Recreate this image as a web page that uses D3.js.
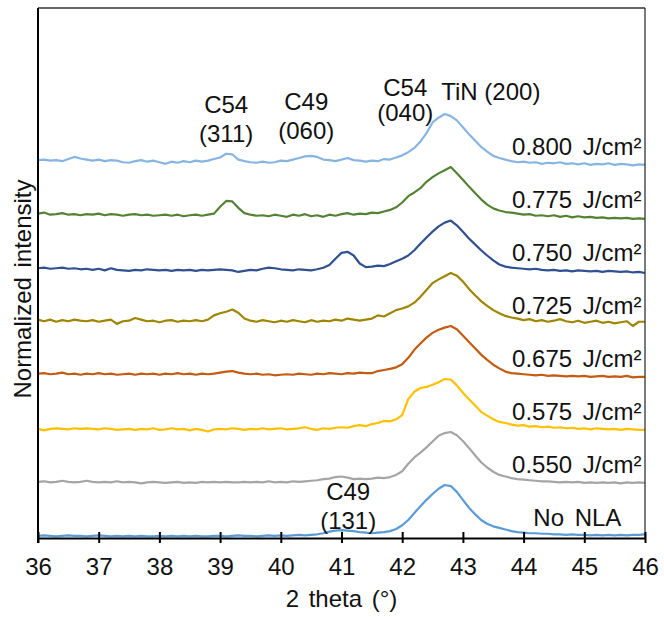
<!DOCTYPE html>
<html><head><meta charset="utf-8">
<script src="https://cdn.jsdelivr.net/npm/d3@7"></script>
<style>
body{margin:0;background:#fff}
text{font-family:Arial,"Liberation Sans",sans-serif;fill:#111}
</style>
</head><body>
<svg id="c" width="664" height="617"></svg>
<script>
// ---- DATA (normalized intensity x100, sampled every 0.1° from 36 to 46) ----
const twoTheta = d3.range(360, 461).map(d => d / 10);
const seriesNames = ["No NLA","0.550 J/cm²","0.575 J/cm²","0.675 J/cm²","0.725 J/cm²","0.750 J/cm²","0.775 J/cm²","0.800 J/cm²"];
const xTicks = [36,37,38,39,40,41,42,43,44,45,46];

const noNLA = [4,5,4,3,4,5,4,4,3,4, 5,4,3,4,3,4,3,4,3,3, 4,3,4,3,4,3,4,3,3,4, 4,3,4,5,4,4,3,4,5,4,
  5,4,5,6,5,6,7,9,12,14, 15,14,13,11,10,9,10,11,13,17, 24,34,47,60,72,83,93,100,98,87,
  72,57,45,34,27,22,19,16,13,11, 10,9,9,8,8,7,7,6,7,6, 6,5,6,5,6,5,6,5,6,6, 7];
const f550 = [6,7,5,6,8,6,5,6,8,6, 5,6,5,7,5,6,5,3,5,6, 5,4,5,6,4,5,4,6,5,6, 5,6,5,5,6,5,6,5,7,5,
  6,5,7,6,7,8,9,11,12,15, 16,14,11,12,11,12,14,13,15,19, 26,40,52,61,71,82,93,98,100,94,
  83,70,56,43,33,25,19,16,13,11, 10,9,8,7,7,6,5,6,5,6, 4,5,4,5,4,5,3,5,4,5, 4];
const f575 = [6,3,6,7,6,5,7,6,7,6, 5,7,6,4,5,6,4,6,5,7, 4,5,7,5,6,3,6,4,1,5, 6,5,7,6,4,6,5,7,5,6,
  7,5,6,7,9,6,4,7,6,8, 9,8,11,13,11,15,17,21,20,24, 32,62,76,83,85,89,94,100,99,88,
  74,62,50,38,31,24,19,17,14,12, 13,10,11,9,10,8,9,7,8,6, 7,5,7,6,5,6,4,6,5,4, 4];
const f675 = [10,11,9,10,12,9,10,8,10,9, 11,9,10,8,9,10,8,10,9,10, 8,10,9,11,9,10,8,10,9,10, 12,14,15,12,10,9,10,8,9,7,
  8,9,8,10,9,8,10,9,11,10, 9,11,10,12,11,11,15,17,19,22, 28,40,55,67,78,87,93,97,100,94,
  82,70,58,46,36,27,20,14,11,10, 9,8,7,8,6,7,6,5,6,5, 6,4,5,6,4,5,4,6,3,4, 4];
const f725 = [12,9,12,8,11,9,12,10,9,11, 8,10,12,4,9,10,15,12,9,10, 7,10,11,8,10,9,11,9,12,20, 24,27,31,25,14,10,8,11,9,7,
  10,8,11,9,7,11,8,10,9,12, 10,14,12,10,12,14,20,18,24,30, 33,37,44,55,68,81,88,94,100,95,
  84,70,58,47,38,30,24,19,16,14, 11,13,9,11,8,10,13,9,7,10, 6,8,10,6,8,5,7,9,0,8, 8];
const f750 = [9,10,8,9,10,8,9,7,8,6, 8,5,9,6,5,4,6,5,7,6, 5,6,4,6,5,6,4,6,5,6, 7,6,5,2,4,6,5,8,10,9,
  7,6,5,7,6,5,7,10,15,27, 38,40,33,18,11,12,14,13,17,22, 27,33,43,55,67,78,88,95,99,90,
  78,65,54,43,33,24,16,12,10,9, 8,7,8,6,5,6,4,5,3,5, 4,3,4,2,4,3,2,3,1,2, 0];
const f775 = [12,14,10,11,13,10,11,9,11,10, 12,9,11,10,8,10,11,9,10,8, 9,10,8,10,7,9,10,8,10,12, 25,36,35,23,13,10,8,9,7,10,
  8,6,10,8,11,7,9,6,10,8, 11,13,10,12,11,14,13,16,19,24, 33,45,52,60,72,81,88,94,100,88,
  76,63,51,39,29,22,18,15,14,12, 10,11,8,9,7,9,6,8,5,7, 5,6,4,5,3,4,3,4,2,3, 2];
const f800 = [13,14,12,13,11,15,19,16,14,12, 14,11,13,12,9,8,11,13,10,12, 9,6,10,8,11,9,12,10,12,15, 18,25,24,14,11,9,8,10,8,9,
  12,11,14,17,20,21,19,14,13,11, 14,17,13,12,10,12,11,15,14,18, 22,28,36,48,64,84,93,100,96,88,
  75,62,50,38,29,21,17,14,11,9, 10,8,9,6,8,7,9,6,7,5, 7,4,6,5,7,4,6,5,3,5, 4];

const series = [noNLA, f550, f575, f675, f725, f750, f775, f800];
const colors = ["#5B9BD5","#A5A5A5","#FFC000","#C55A11","#A08500","#2F5091","#548235","#86B5E4"];

// ---- CHART ----
const svg = d3.select("#c");
const x = d3.scaleLinear().domain([36, 46]).range([38, 645]);
const y = d3.scaleLinear().domain([0, 10]).range([538, 8]);
const stackStep = 1; // vertical offset between patterns (a.u.)

// traces
series.forEach((vals, i) => {
  const off = i * stackStep;
  const line = d3.line()
    .x((d, j) => x(twoTheta[j]))
    .y(d => y(d / 100 + off));
  svg.append("path").datum(vals)
    .attr("d", line)
    .attr("fill", "none")
    .attr("stroke", colors[i])
    .attr("stroke-width", 2.2)
    .attr("stroke-linejoin", "round");
});

// frame (top & right)
svg.append("line").attr("x1", x(36)).attr("x2", x(46)).attr("y1", y(10)).attr("y2", y(10))
  .attr("stroke", "#333").attr("stroke-width", 1.3);
svg.append("line").attr("x1", x(46)).attr("x2", x(46)).attr("y1", y(10)).attr("y2", y(0))
  .attr("stroke", "#333").attr("stroke-width", 1.3);

// bottom axis
const ax = svg.append("g").attr("transform", `translate(0,${y(0)})`)
  .call(d3.axisBottom(x).tickValues(xTicks).tickFormat(d3.format("d")).tickSizeOuter(0));
ax.select(".domain").attr("stroke", "#000").attr("stroke-width", 2);
ax.selectAll(".tick line").attr("y1", -6).attr("y2", 5).attr("stroke", "#000").attr("stroke-width", 2);
ax.selectAll(".tick text").attr("y", 20).attr("font-size", 24)
  .attr("font-family", "Arial, 'Liberation Sans', sans-serif").attr("fill", "#111");

// left axis line
svg.append("line").attr("x1", x(36)).attr("x2", x(36)).attr("y1", y(10)).attr("y2", y(0) + 5)
  .attr("stroke", "#000").attr("stroke-width", 2);

// axis titles
svg.append("text").attr("x", (x(36) + x(46)) / 2).attr("y", 607)
  .attr("text-anchor", "middle").attr("font-size", 24).style("word-spacing", "3px").text("2 theta (°)");
svg.append("text").attr("transform", "translate(31,289) rotate(-90)")
  .attr("text-anchor", "middle").attr("font-size", 24).style("word-spacing", "3px").text("Normalized intensity");

// series labels
series.forEach((vals, i) => {
  const lx = i === 0 ? 44.16 : 43.81;
  svg.append("text")
    .attr("x", x(lx)).attr("y", y(i * stackStep + 0.23))
    .attr("font-size", 24).style("word-spacing", i === 0 ? "4px" : "4px")
    .text(seriesNames[i]);
});

// peak annotations
const ann = [
  {t: ["C54", "(311)"], th: 39.10, y1: 8.02, y2: 7.47},
  {t: ["C49", "(060)"], th: 40.42, y1: 8.08, y2: 7.53},
  {t: ["C54", "(040)"], th: 42.05, y1: 8.34, y2: 7.87},
  {t: ["TiN (200)"],    th: 43.46, y1: 8.26},
  {t: ["C49", "(131)"], th: 41.11, y1: 0.72, y2: 0.17}
];
ann.forEach(a => {
  svg.append("text").attr("x", x(a.th)).attr("y", y(a.y1))
    .attr("text-anchor", "middle").attr("font-size", 24).text(a.t[0]);
  if (a.t[1]) svg.append("text").attr("x", x(a.th)).attr("y", y(a.y2))
    .attr("text-anchor", "middle").attr("font-size", 24).text(a.t[1]);
});
</script>
</body></html>
